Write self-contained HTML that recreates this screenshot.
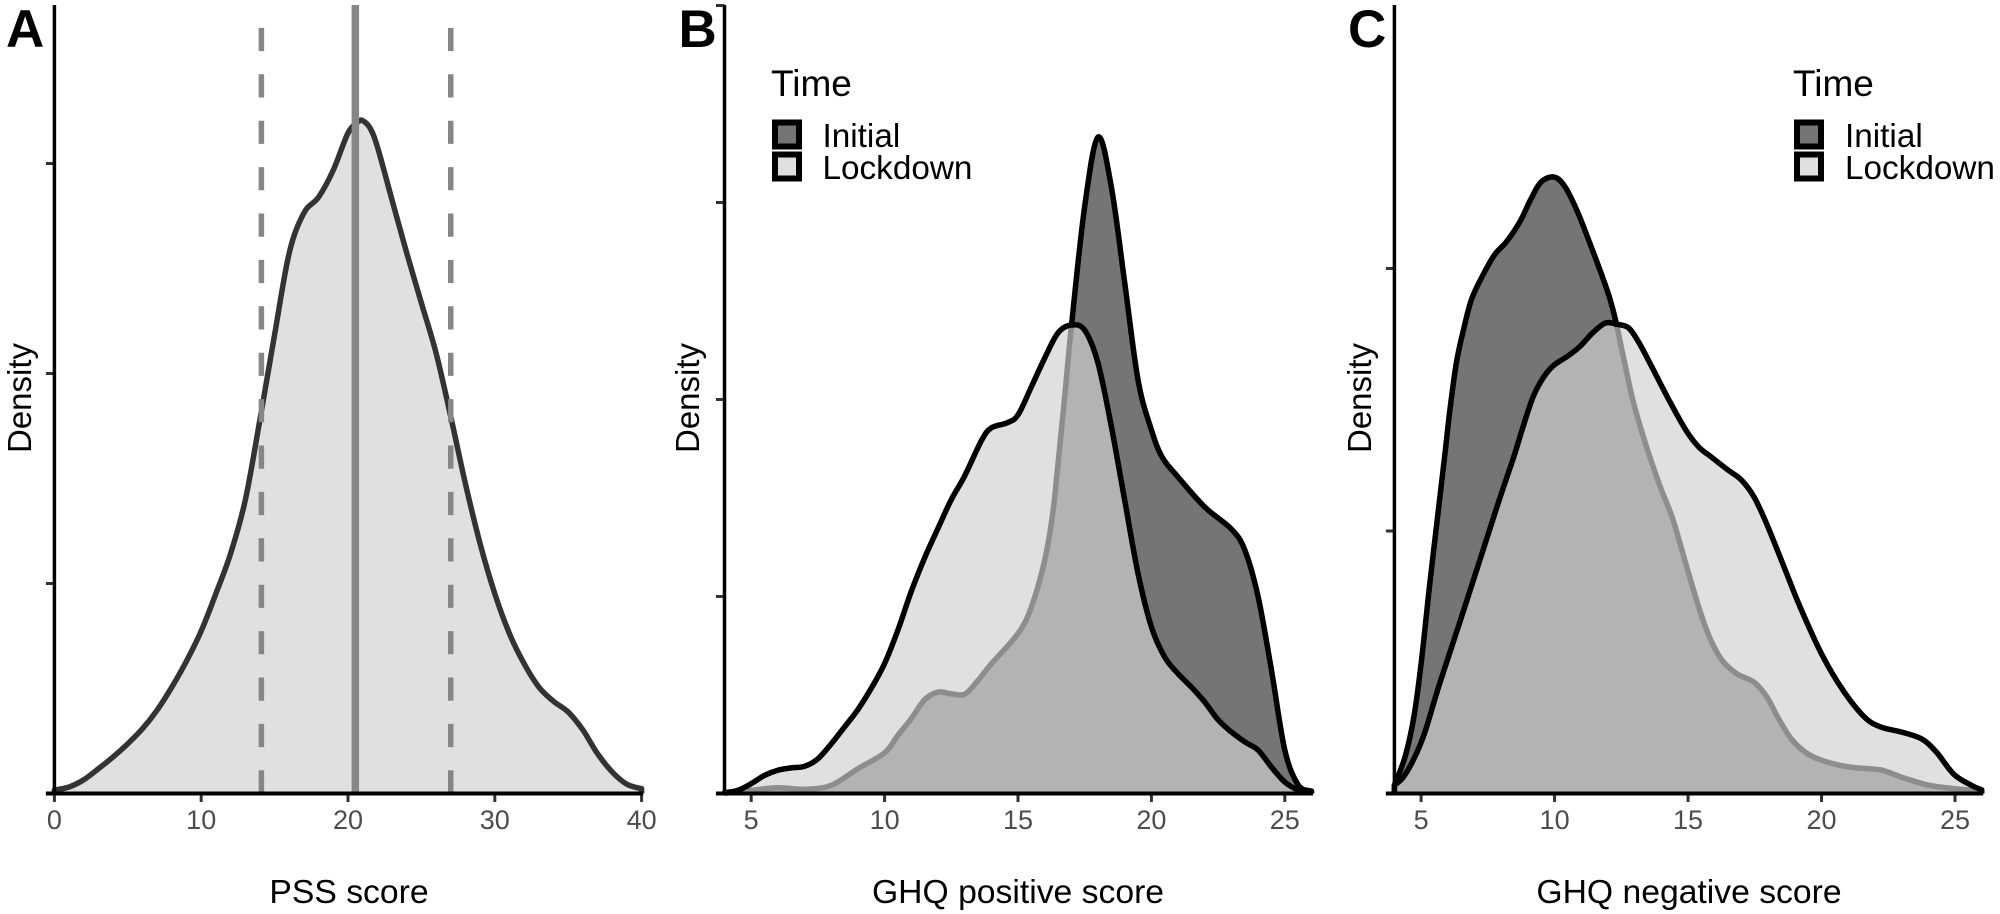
<!DOCTYPE html>
<html lang="en">
<head>
<meta charset="utf-8">
<title>Density plots of PSS and GHQ scores</title>
<style>
  html, body { margin: 0; padding: 0; background: #fff; }
  svg { display: block; font-family: "Liberation Sans", sans-serif; }
</style>
</head>
<body>
<svg id="figure" xmlns="http://www.w3.org/2000/svg" width="2000" height="914" viewBox="0 0 2000 914">
  <rect x="0" y="0" width="2000" height="914" fill="#ffffff"/>

  <g id="panel-a"></g>
  <g id="panel-b"></g>
  <g id="panel-c"></g>

  <g font-weight="700" font-size="53" fill="#000">
    <text x="6" y="47">A</text>
    <text x="678.5" y="47">B</text>
    <text x="1348" y="47">C</text>
  </g>

  <g font-size="33" fill="#000" text-anchor="middle">
    <text transform="translate(31 398) rotate(-90)">Density</text>
    <text transform="translate(699 398) rotate(-90)">Density</text>
    <text transform="translate(1371 398) rotate(-90)">Density</text>
  </g>

  <g font-size="33.7" fill="#000" text-anchor="middle">
    <text x="349" y="903">PSS score</text>
    <text x="1018" y="903">GHQ positive score</text>
    <text x="1689" y="903">GHQ negative score</text>
  </g>

  <g fill="#000">
    <text x="771" y="96" font-size="37">Time</text>
    <rect x="775" y="122.5" width="24" height="24" fill="#757575" stroke="#000" stroke-width="6"/>
    <rect x="775" y="154.5" width="24" height="24" fill="#e0e0e0" stroke="#000" stroke-width="6"/>
    <text x="822.5" y="147" font-size="33.3">Initial</text>
    <text x="822.5" y="179" font-size="33.3">Lockdown</text>
  </g>

  <g fill="#000">
    <text x="1793" y="96" font-size="37">Time</text>
    <rect x="1797" y="122.5" width="24" height="24" fill="#757575" stroke="#000" stroke-width="6"/>
    <rect x="1797" y="154.5" width="24" height="24" fill="#e0e0e0" stroke="#000" stroke-width="6"/>
    <text x="1845" y="147" font-size="33.3">Initial</text>
    <text x="1845" y="179" font-size="33.3">Lockdown</text>
  </g>
</svg>

<script>
// Density values are expressed as density x 1000.
const pssXTicks = [0, 10, 20, 30, 40];
const pssYTicks = [0, 20, 40, 60];
const pssMean = 20.5;
const pssBounds = [14.1, 27];
const pssScores = [0,1,2,3,4,5,6,7,8,9,10,11,12,13,14,15,16,17,18,19,20,20.7,21,21.5,22,23,24,25,26,27,28,29,30,31,32,33,34,35,36,37,38,39,40];
const pssDensity = [0.33,0.62,1.31,2.36,3.48,4.74,6.17,7.95,10.14,12.62,15.48,19.03,22.84,27.92,35.6,43.7,51.5,55.3,56.8,59.38,62.9,63.98,64.08,63.38,61.6,56.52,51.48,46.71,41.95,35.89,29.5,23.79,19.03,15.22,12.36,10.14,8.78,7.76,6.05,3.79,2.05,0.88,0.46];

const ghqXTicks = [5, 10, 15, 20, 25];
const posYTicks = [0, 50, 100, 150, 200];
const posInitialScores = [4,5,6,7,8,9,10,10.5,11,11.5,12,12.5,13,13.5,14,15,15.5,16,16.3,16.5,16.75,17,17.5,18,18.5,19,19.5,20,20.4,21,22,23,23.5,24,24.5,25,25.5,26];
const posInitialDensity = [0.1,0.8,1.47,1.07,2.08,6.3,10.3,14.77,19,23.8,25.76,25.3,25.2,28.7,32.9,40.6,47.3,59.2,71,83.7,100.7,118.5,149,166.6,153.9,129.6,104.9,92.3,85.4,80.3,72.7,67.1,61.8,49.9,31.3,11,2.2,0.6];
const posLockdownScores = [4,4.5,5,5.5,6,6.5,7,7.5,8,8.5,9,9.5,10,10.5,11,11.5,12,12.5,13,13.64,14,14.6,15,15.5,16,16.5,17,17.5,18,18.5,19,19.5,20,20.5,21,21.5,22,22.5,23,23.5,24,24.5,25,25.5,26];
const posLockdownDensity = [0.2,0.8,2.5,4.6,5.9,6.5,6.9,8.8,12.6,16.9,21.3,26.7,33,41.5,51.3,59.8,67.3,74.6,80.6,89.7,92.8,94.1,96.1,103.2,110.5,116.9,118.9,117.6,109.2,93.1,74.4,55.8,42.3,34.6,30.4,27,23.2,18.7,15.6,13.1,11,6.7,2.9,0.9,0.25];

const negYTicks = [0, 50, 100];
const negInitialScores = [4,4.4,4.73,5,5.3,5.53,5.88,6.08,6.32,6.56,6.88,7.28,7.75,8.2,8.7,9.1,9.5,10,10.4,10.86,11.3,11.7,12.05,12.3,12.6,12.93,13.25,13.57,13.96,14.44,14.92,15.4,15.8,16.27,16.83,17.47,17.95,18.42,18.9,19.5,20.2,21.1,22.2,23,24,25,26];
const negInitialDensity = [1.6,7,14.6,24.7,38.8,48.9,64.1,73.1,82,87.7,94,98.4,102.6,105.1,108.9,113.1,116.5,117.4,115.5,110.8,105.1,99.7,94.6,89.8,82.6,75,69.2,64.1,58.4,52.1,43.7,35.5,29.8,25.4,22.8,21.2,18.4,14,10.2,7.5,6,5,4.5,3.1,1.6,0.9,0.5];
const negLockdownScores = [4,4.33,4.73,5.13,5.68,6.48,7.28,7.9,8.47,8.78,9.19,9.59,9.98,10.46,10.94,11.42,11.9,12.3,12.77,13.17,13.65,14.28,14.92,15.4,15.87,16.5,17,17.47,17.95,18.6,19.2,20,20.8,21.6,22.2,23,23.75,24.3,24.95,25.6,26];
const negLockdownDensity = [1.6,3.1,6.6,11.5,20.7,33.1,45.7,55.5,64.1,69.2,75.5,79.3,81.6,83.2,85.1,87.7,89.6,89.4,88.7,85.8,81.2,75,69.2,66,64.1,61.6,59.7,56.5,51.3,43.1,35.5,26.6,19.7,14.6,12.7,11.7,10.4,7.9,3.7,1.6,0.7];

const NS = 'http://www.w3.org/2000/svg';
const BASE_Y = 793.5;

function linearScale(d0, d1, r0, r1) {
  return function (v) { return r0 + (v - d0) / (d1 - d0) * (r1 - r0); };
}

function shape(parent, tag, attrs) {
  const node = document.createElementNS(NS, tag);
  Object.keys(attrs).forEach(function (k) { node.setAttribute(k, attrs[k]); });
  parent.appendChild(node);
  return node;
}

function curveSegments(xs, ys, xScale, yScale) {
  const pts = xs.map(function (x, i) { return [xScale(x), yScale(ys[i])]; });
  let d = 'L' + pts[0][0].toFixed(2) + ' ' + pts[0][1].toFixed(2);
  for (let i = 0; i < pts.length - 1; i++) {
    const p0 = pts[Math.max(i - 1, 0)];
    const p1 = pts[i];
    const p2 = pts[i + 1];
    const p3 = pts[Math.min(i + 2, pts.length - 1)];
    const c1x = p1[0] + (p2[0] - p0[0]) / 6;
    const c1y = p1[1] + (p2[1] - p0[1]) / 6;
    const c2x = p2[0] - (p3[0] - p1[0]) / 6;
    const c2y = p2[1] - (p3[1] - p1[1]) / 6;
    d += 'C' + c1x.toFixed(2) + ' ' + c1y.toFixed(2) + ' ' + c2x.toFixed(2) + ' ' + c2y.toFixed(2) + ' ' + p2[0].toFixed(2) + ' ' + p2[1].toFixed(2);
  }
  return d;
}

function areaPath(xs, ys, xScale, yScale) {
  const start = xScale(xs[0]).toFixed(2);
  const end = xScale(xs[xs.length - 1]).toFixed(2);
  return 'M' + start + ' ' + yScale(0).toFixed(2) + curveSegments(xs, ys, xScale, yScale) + 'L' + end + ' ' + yScale(0).toFixed(2) + 'Z';
}

function linePath(xs, ys, xScale, yScale) {
  const start = xScale(xs[0]).toFixed(2);
  const end = xScale(xs[xs.length - 1]).toFixed(2);
  return 'M' + start + ' ' + yScale(0).toFixed(2) + curveSegments(xs, ys, xScale, yScale) + 'L' + end + ' ' + yScale(0).toFixed(2);
}

function drawAxes(parent, xTicks, yTicks, xScale, yScale, left, right, top) {
  const tickColor = '#333333';
  yTicks.forEach(function (t) {
    const tick = shape(parent, 'line', { x1: left - 8.5, x2: left, y1: yScale(t), y2: yScale(t), stroke: tickColor, 'stroke-width': 3 });
    
    
  });
  xTicks.forEach(function (t) {
    const tick = shape(parent, 'line', { x1: xScale(t), x2: xScale(t), y1: BASE_Y, y2: BASE_Y + 8.5, stroke: tickColor, 'stroke-width': 3 });
    
    
    const label = shape(parent, 'text', { x: xScale(t), y: 829, 'text-anchor': 'middle', 'font-size': 27, fill: '#4d4d4d' });
    label.textContent = String(t);
    
    
  });
  const yLine = shape(parent, 'line', { x1: left, x2: left, y1: top, y2: BASE_Y, stroke: '#000', 'stroke-width': 3.5 });
  
  
  const xLine = shape(parent, 'line', { x1: left - 8.5, x2: right + 1.5, y1: BASE_Y, y2: BASE_Y, stroke: '#000', 'stroke-width': 4 });
  
  
}

/* Panel A */
(function () {
  const g = document.getElementById('panel-a');
  const x = linearScale(0, 40, 54.4, 641.6);
  const y = linearScale(0, 75, BASE_Y, 6);

  const fill = shape(g, 'path', { d: areaPath(pssScores, pssDensity, x, y), fill: '#e0e0e0' });
  
  

  const line = shape(g, 'path', { d: linePath(pssScores, pssDensity, x, y), fill: 'none', stroke: '#333333', 'stroke-width': 5.5, 'stroke-linejoin': 'round' });
  
  

  const meanLine = shape(g, 'line', { x1: x(pssMean), x2: x(pssMean), y1: BASE_Y, y2: 5, stroke: '#868686', 'stroke-width': 7.5 });
  
  

  pssBounds.forEach(function (v) {
    const bound = shape(g, 'line', { x1: x(v), x2: x(v), y1: BASE_Y, y2: 5, stroke: '#868686', 'stroke-width': 5.5, 'stroke-dasharray': '23.2 23.2' });
    
    
  });

  drawAxes(g, pssXTicks, pssYTicks, x, y, 54.4, 641.6, 5);
})();

/* Panel B */
(function () {
  const g = document.getElementById('panel-b');
  const x = linearScale(4, 26, 724.5, 1311.5);
  const y = linearScale(0, 200, BASE_Y, 5.5);

  const initialFill = shape(g, 'path', { d: areaPath(posInitialScores, posInitialDensity, x, y), fill: '#757575' });
  
  

  const initialLine = shape(g, 'path', { d: linePath(posInitialScores, posInitialDensity, x, y), fill: 'none', stroke: '#000', 'stroke-width': 5.5, 'stroke-linejoin': 'round' });
  
  

  const lockdownFill = shape(g, 'path', { d: areaPath(posLockdownScores, posLockdownDensity, x, y), fill: '#d1d1d1', 'fill-opacity': 0.674 });
  
  

  const lockdownLine = shape(g, 'path', { d: linePath(posLockdownScores, posLockdownDensity, x, y), fill: 'none', stroke: '#000', 'stroke-width': 5.5, 'stroke-linejoin': 'round' });
  
  

  drawAxes(g, ghqXTicks, posYTicks, x, y, 724.5, 1311.5, 5);
})();

/* Panel C */
(function () {
  const g = document.getElementById('panel-c');
  const x = linearScale(4, 26, 1394.4, 1981.7);
  const y = linearScale(0, 150, BASE_Y, 6);

  const initialFill = shape(g, 'path', { d: areaPath(negInitialScores, negInitialDensity, x, y), fill: '#757575' });
  
  

  const initialLine = shape(g, 'path', { d: linePath(negInitialScores, negInitialDensity, x, y), fill: 'none', stroke: '#000', 'stroke-width': 5.5, 'stroke-linejoin': 'round' });
  
  

  const lockdownFill = shape(g, 'path', { d: areaPath(negLockdownScores, negLockdownDensity, x, y), fill: '#d1d1d1', 'fill-opacity': 0.674 });
  
  

  const lockdownLine = shape(g, 'path', { d: linePath(negLockdownScores, negLockdownDensity, x, y), fill: 'none', stroke: '#000', 'stroke-width': 5.5, 'stroke-linejoin': 'round' });
  
  

  drawAxes(g, ghqXTicks, negYTicks, x, y, 1394.4, 1981.7, 5);
})();
</script>
</body>
</html>
